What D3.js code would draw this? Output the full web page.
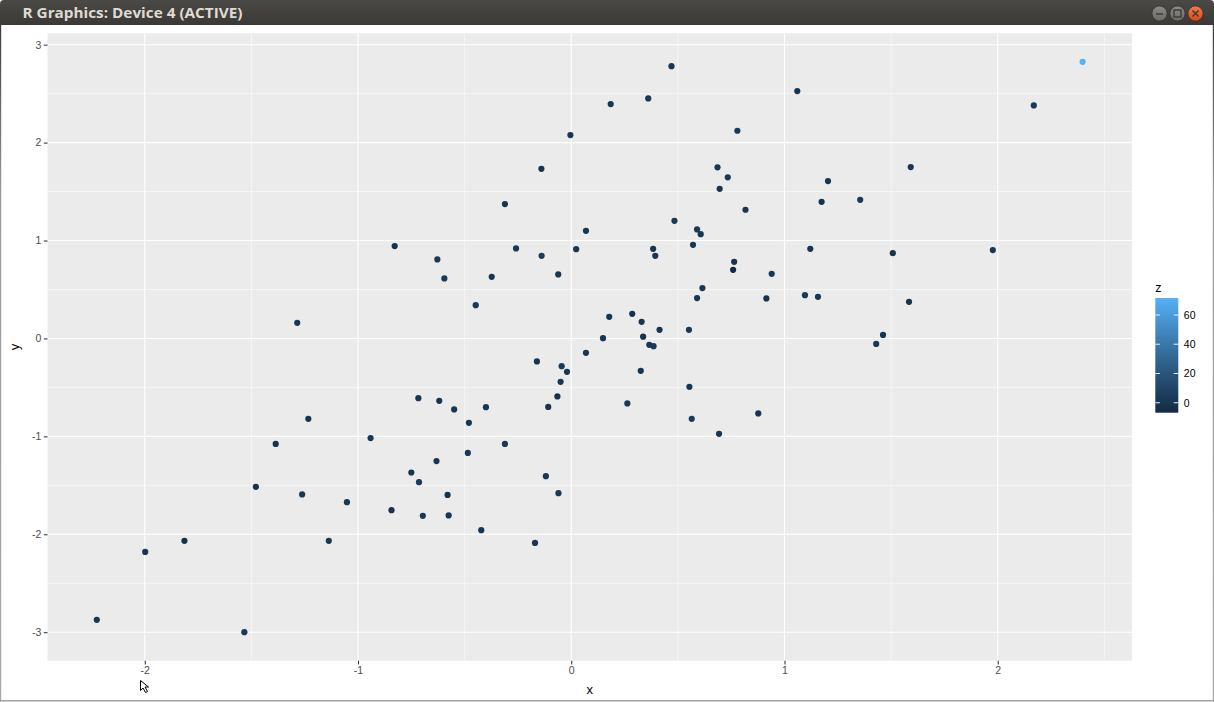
<!DOCTYPE html>
<html>
<head>
<meta charset="utf-8">
<script src="https://cdn.jsdelivr.net/npm/d3@7"></script>
<style>
  html, body { margin: 0; padding: 0; background: #fff; }
  svg { display: block; font-family: "Liberation Sans", Arial, sans-serif; }
</style>
</head>
<body>
<svg id="win" width="1214" height="702"></svg>
<script>
// ── data: x, y; z only shows as colour (one bright outlier) ──
const xValues = [
  0.470, 2.398, 0.185, 0.361, 1.060, 2.169, -0.004, 0.779, -0.140, 0.686,
  0.734, 0.696, 1.592, 1.204, 1.174, 1.355, 0.817, -0.311, 0.484, 0.069,
  0.590, 0.607, 0.571, -0.828, -0.259, 0.023, 0.384, 0.394, -0.139, 1.121,
  1.977, 1.508, -0.628, 0.764, 0.759, 0.940, -0.061, -0.595, -0.373, 0.615,
  0.590, 0.915, 1.096, 1.157, 1.584, -0.448, 0.178, 0.286, 0.330, -1.285,
  0.414, 0.552, 0.149, 0.337, 0.366, 0.386, 1.462, 1.430, 0.069, -0.161,
  -0.045, -0.020, 0.326, -0.050, 0.554, -0.065, -0.717, -0.619, 0.263, -0.108,
  -0.400, -0.549, -1.233, 0.565, 0.877, -0.480, 0.693, -0.311, -0.941, -1.386,
  -0.485, -0.632, -0.750, -0.119, -0.714, -1.479, -1.262, -0.580, -0.060, -1.052,
  -0.843, -0.696, -0.575, -0.422, -1.137, -0.170, -1.814, -1.998, -2.225, -1.533
];
const yValues = [
  2.781, 2.825, 2.393, 2.451, 2.526, 2.380, 2.077, 2.121, 1.732, 1.747,
  1.645, 1.528, 1.750, 1.607, 1.395, 1.416, 1.314, 1.372, 1.201, 1.099,
  1.113, 1.065, 0.956, 0.943, 0.919, 0.912, 0.915, 0.844, 0.844, 0.915,
  0.902, 0.871, 0.807, 0.782, 0.701, 0.660, 0.654, 0.613, 0.629, 0.514,
  0.412, 0.409, 0.442, 0.425, 0.374, 0.340, 0.221, 0.251, 0.170, 0.159,
  0.088, 0.088, 0.003, 0.018, -0.065, -0.079, 0.036, -0.056, -0.147, -0.235,
  -0.283, -0.341, -0.331, -0.443, -0.494, -0.592, -0.610, -0.637, -0.664, -0.699,
  -0.702, -0.725, -0.821, -0.821, -0.766, -0.862, -0.974, -1.077, -1.018, -1.077,
  -1.169, -1.253, -1.369, -1.407, -1.468, -1.516, -1.593, -1.598, -1.580, -1.672,
  -1.754, -1.812, -1.808, -1.958, -2.067, -2.088, -2.067, -2.180, -2.874, -3.000
];
const zValues = [
  1.2, 71.6, 0.8, 2.1, -0.4, 3.0, 0.5, 1.7, -1.1, 0.9,
  2.4, -0.6, 1.3, 0.2, -2.0, 1.8, 0.4, -0.9, 2.6, 0.1,
  1.5, -0.3, 0.7, -1.6, 2.2, 0.6, -0.8, 1.1, 3.4, -0.2,
  0.9, -1.3, 1.9, 0.3, -6.8, 1.4, 0.0, 2.8, -0.7, 1.0,
  0.5, -1.9, 2.3, 0.8, -0.5, 1.6, 0.2, -2.4, 1.2, 0.7,
  -0.1, 2.0, 1.3, -1.0, 0.4, 3.1, -0.6, 1.7, 0.9, -1.4,
  2.5, 0.1, -0.2, 1.8, 0.6, -2.7, 1.0, 0.3, 2.2, -0.9,
  1.4, 0.8, -1.2, 2.9, 0.0, 1.1, -0.4, 1.9, 0.5, -1.7,
  2.1, 0.2, -0.8, 1.5, 3.6, -0.3, 0.7, -2.2, 1.3, 0.4,
  -1.5, 2.7, 0.9, -0.1, 1.6, 0.6, -2.9, 1.2, 0.3, 2.4
];
const xBreaks = [-2, -1, 0, 1, 2];
const yBreaks = [-3, -2, -1, 0, 1, 2, 3];
const zBreaks = [0, 20, 40, 60];
const WINDOW_TITLE = 'R Graphics: Device 4 (ACTIVE)';

// ── layout ──
const W = 1214, H = 702;
const TITLE_H = 25;
const PANEL = { left: 47.5, right: 1131.9, top: 33.3, bottom: 660.7 };
const BAR = { left: 1155.3, width: 23, top: 298, bottom: 412.7 };
const TICK_LEN = 3.7;

const svg = d3.select('#win');

// ggplot-style 5% expansion of the data range
function expand(ext, mult = 0.05) {
  const d = (ext[1] - ext[0]) * mult;
  return [ext[0] - d, ext[1] + d];
}
function minorBreaks(major, domain) {
  const step = major[1] - major[0];
  const out = [];
  for (let v = major[0] - step / 2; v <= domain[1]; v += step) {
    if (v >= domain[0]) out.push(v);
  }
  return out;
}

const points = xValues.map((x, i) => ({ x, y: yValues[i], z: zValues[i] }));

const xDomain = expand(d3.extent(xValues));
const yDomain = expand(d3.extent(yValues));
const zDomain = d3.extent(zValues);

const x = d3.scaleLinear().domain(xDomain).range([PANEL.left, PANEL.right]);
const y = d3.scaleLinear().domain(yDomain).range([PANEL.bottom, PANEL.top]);
const colour = d3.scaleLinear().domain(zDomain).range(['#132B43', '#56B1F7'])
  .interpolate(d3.interpolateLab);

// ── window chrome ──
const defs = svg.append('defs');
const tg = defs.append('linearGradient').attr('id', 'titlebar')
  .attr('x1', 0).attr('y1', 0).attr('x2', 0).attr('y2', 1);
tg.append('stop').attr('offset', 0).attr('stop-color', '#4a4945');
tg.append('stop').attr('offset', 1).attr('stop-color', '#3a3935');

const edge = defs.append('linearGradient').attr('id', 'leftedge')
  .attr('x1', 0).attr('y1', 0).attr('x2', 0).attr('y2', 1);
edge.append('stop').attr('offset', 0).attr('stop-color', '#3d3d3d');
edge.append('stop').attr('offset', 0.25).attr('stop-color', '#9a9a9a');
edge.append('stop').attr('offset', 1).attr('stop-color', '#a8a8a8');

svg.append('rect').attr('width', W).attr('height', H).attr('fill', '#fff');
svg.append('path')
  .attr('d', `M0,${TITLE_H} V4 Q0,0 4,0 H${W - 4} Q${W},0 ${W},4 V${TITLE_H} Z`)
  .attr('fill', 'url(#titlebar)');
svg.append('text')
  .attr('x', 22.5).attr('y', 17.5)
  .attr('fill', '#dfdbd2')
  .attr('font-family', '"Open Sans", "DejaVu Sans", sans-serif')
  .attr('font-weight', 'bold').attr('font-size', 13.5)
  .attr('textLength', 220).attr('lengthAdjust', 'spacingAndGlyphs')
  .text(WINDOW_TITLE);

const buttons = [
  { cx: 1159.5, fill: ['#8d8c87', '#6a6965'], glyph: 'min' },
  { cx: 1177.5, fill: ['#8d8c87', '#6a6965'], glyph: 'max' },
  { cx: 1195.5, fill: ['#f27a4a', '#dd4814'], glyph: 'close' },
];
buttons.forEach((b, i) => {
  const g = defs.append('linearGradient').attr('id', `btn${i}`)
    .attr('x1', 0).attr('y1', 0).attr('x2', 0).attr('y2', 1);
  g.append('stop').attr('offset', 0).attr('stop-color', b.fill[0]);
  g.append('stop').attr('offset', 1).attr('stop-color', b.fill[1]);
  svg.append('circle').attr('cx', b.cx).attr('cy', 13.5).attr('r', 7.6)
    .attr('fill', `url(#btn${i})`).attr('stroke', '#33322f').attr('stroke-width', 0.8);
  const gl = svg.append('g').attr('stroke', '#3a3935').attr('stroke-width', 1.4).attr('fill', 'none');
  if (b.glyph === 'min') {
    gl.append('line').attr('x1', b.cx - 3.5).attr('x2', b.cx + 3.5).attr('y1', 14).attr('y2', 14);
  } else if (b.glyph === 'max') {
    gl.append('rect').attr('x', b.cx - 3.5).attr('y', 10).attr('width', 7).attr('height', 7);
  } else {
    gl.append('path').attr('d', `M${b.cx - 3},10.5 L${b.cx + 3},16.5 M${b.cx + 3},10.5 L${b.cx - 3},16.5`);
  }
});

svg.append('rect').attr('x', 0).attr('y', TITLE_H).attr('width', 1.2).attr('height', H - TITLE_H)
  .attr('fill', 'url(#leftedge)');
svg.append('rect').attr('x', W - 1.2).attr('y', TITLE_H).attr('width', 1.2).attr('height', H - TITLE_H)
  .attr('fill', 'url(#leftedge)');
svg.append('rect').attr('x', 0).attr('y', H - 2).attr('width', W).attr('height', 1.5)
  .attr('fill', '#a4a4a4');

// ── plot panel ──
const plot = svg.append('g');
plot.append('rect')
  .attr('x', PANEL.left).attr('y', PANEL.top)
  .attr('width', PANEL.right - PANEL.left).attr('height', PANEL.bottom - PANEL.top)
  .attr('fill', '#EBEBEB');

const grid = plot.append('g').attr('stroke', '#fff').attr('fill', 'none');
grid.selectAll('.xminor').data(minorBreaks(xBreaks, xDomain)).join('line')
  .attr('x1', d => x(d)).attr('x2', d => x(d))
  .attr('y1', PANEL.top).attr('y2', PANEL.bottom).attr('stroke-width', 0.55);
grid.selectAll('.yminor').data(minorBreaks(yBreaks, yDomain)).join('line')
  .attr('y1', d => y(d)).attr('y2', d => y(d))
  .attr('x1', PANEL.left).attr('x2', PANEL.right).attr('stroke-width', 0.55);
grid.selectAll('.xmajor').data(xBreaks).join('line')
  .attr('x1', d => x(d)).attr('x2', d => x(d))
  .attr('y1', PANEL.top).attr('y2', PANEL.bottom).attr('stroke-width', 1.1);
grid.selectAll('.ymajor').data(yBreaks).join('line')
  .attr('y1', d => y(d)).attr('y2', d => y(d))
  .attr('x1', PANEL.left).attr('x2', PANEL.right).attr('stroke-width', 1.1);

plot.append('g').selectAll('circle').data(points).join('circle')
  .attr('cx', d => x(d.x)).attr('cy', d => y(d.y)).attr('r', 3.1)
  .attr('fill', d => colour(d.z));

// axes — d3 axes restyled like ggplot's theme_grey
const fmt = d => String(d);
const xAxis = plot.append('g').attr('transform', `translate(0,${PANEL.bottom})`)
  .call(d3.axisBottom(x).tickValues(xBreaks).tickFormat(fmt).tickSize(TICK_LEN).tickPadding(2.5));
const yAxis = plot.append('g').attr('transform', `translate(${PANEL.left},0)`)
  .call(d3.axisLeft(y).tickValues(yBreaks).tickFormat(fmt).tickSize(TICK_LEN).tickPadding(2.5));
[xAxis, yAxis].forEach(a => {
  a.select('.domain').remove();
  a.selectAll('.tick line').attr('stroke', '#333333').attr('stroke-width', 1.05);
  a.selectAll('.tick text').attr('fill', '#4D4D4D')
    .attr('font-size', 10.5).attr('font-family', '"Liberation Sans", Arial, sans-serif');
});

plot.append('text')
  .attr('x', (PANEL.left + PANEL.right) / 2).attr('y', 694)
  .attr('text-anchor', 'middle').attr('font-size', 13).attr('fill', '#000')
  .text('x');
plot.append('text')
  .attr('transform', `translate(19,${(PANEL.top + PANEL.bottom) / 2}) rotate(-90)`)
  .attr('text-anchor', 'middle').attr('font-size', 13).attr('fill', '#000')
  .text('y');

// ── colourbar legend ──
const zy = d3.scaleLinear().domain(zDomain).range([BAR.bottom, BAR.top]);
const cb = defs.append('linearGradient').attr('id', 'colourbar')
  .attr('x1', 0).attr('y1', 1).attr('x2', 0).attr('y2', 0);
d3.range(0, 1.0001, 0.1).forEach(t => {
  cb.append('stop').attr('offset', t)
    .attr('stop-color', colour(zDomain[0] + t * (zDomain[1] - zDomain[0])));
});
const legend = svg.append('g');
legend.append('text')
  .attr('x', BAR.left).attr('y', 291.5).attr('font-size', 12.5).attr('fill', '#000')
  .text('z');
legend.append('rect')
  .attr('x', BAR.left).attr('y', BAR.top)
  .attr('width', BAR.width).attr('height', BAR.bottom - BAR.top)
  .attr('fill', 'url(#colourbar)');
const tk = legend.append('g').attr('stroke', '#fff').attr('stroke-width', 0.9);
zBreaks.forEach(v => {
  tk.append('line').attr('x1', BAR.left).attr('x2', BAR.left + BAR.width / 5)
    .attr('y1', zy(v)).attr('y2', zy(v));
  tk.append('line').attr('x1', BAR.left + BAR.width * 4 / 5).attr('x2', BAR.left + BAR.width)
    .attr('y1', zy(v)).attr('y2', zy(v));
});
legend.selectAll('.zlab').data(zBreaks).join('text')
  .attr('x', BAR.left + BAR.width + 5.5).attr('y', d => zy(d))
  .attr('dy', '0.36em').attr('font-size', 10.5).attr('fill', '#000')
  .text(fmt);

// mouse pointer left sitting under the x axis in the screenshot
svg.append('path')
  .attr('d', 'M140.5,680.5 L140.5,690.5 L143,688 L145.5,692.5 L147.5,691.5 L145,687 L148.5,687 Z')
  .attr('fill', '#fff').attr('stroke', '#000').attr('stroke-width', 1);
</script>
</body>
</html>
